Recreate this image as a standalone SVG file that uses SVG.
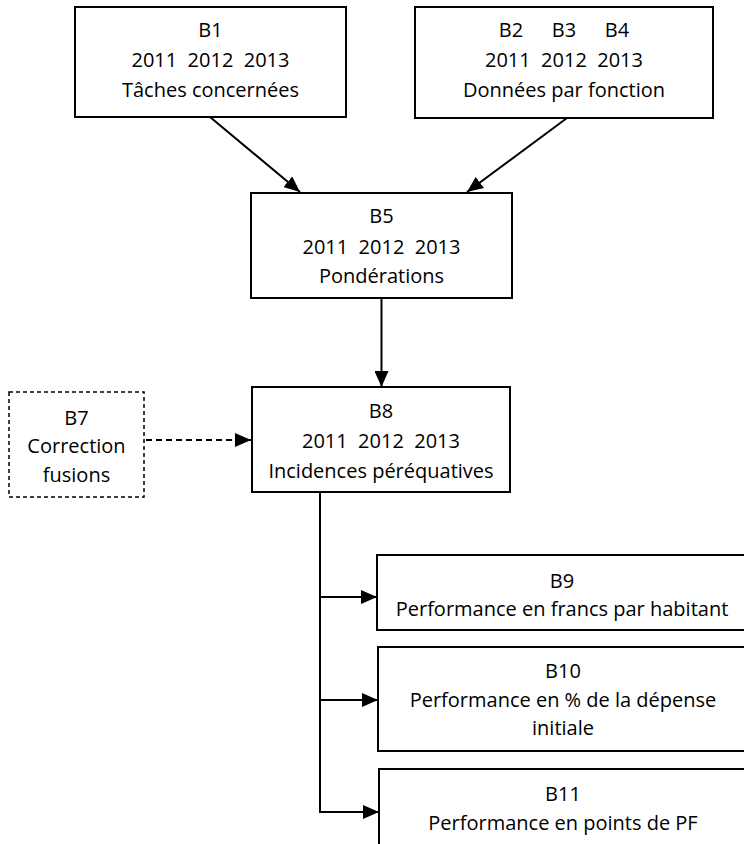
<svg xmlns="http://www.w3.org/2000/svg" width="744" height="844" viewBox="0 0 744 844">
<style>
.box{fill:#fff;stroke:#000;stroke-width:2}
.dbox{fill:#fff;stroke:#000;stroke-width:1.5;stroke-dasharray:4,3}
text{font-family:"Open Sans","DejaVu Sans","Liberation Sans",sans-serif;font-size:20px;fill:#000;text-anchor:middle;white-space:pre}
.ln{fill:none;stroke:#000;stroke-width:2}
.dl{fill:none;stroke:#000;stroke-width:2;stroke-dasharray:6,4}
</style>
<defs>
<marker id="ah" markerUnits="userSpaceOnUse" markerWidth="16" markerHeight="14" refX="16" refY="7" orient="auto">
<path d="M0,0 L16,7 L0,14 Z" fill="#000"/>
</marker>
</defs>
<rect width="744" height="844" fill="#fff"/>
<g id="connectors">
<line class="ln" x1="210" y1="117" x2="300" y2="192" marker-end="url(#ah)"/>
<line class="ln" x1="567" y1="118" x2="467" y2="192" marker-end="url(#ah)"/>
<line class="ln" x1="381.5" y1="298" x2="381.5" y2="387" marker-end="url(#ah)"/>
<line class="dl" x1="146" y1="440" x2="251" y2="440" marker-end="url(#ah)"/>
<polyline class="ln" points="320,492 320,812"/>
<line class="ln" x1="319" y1="597" x2="377" y2="597" marker-end="url(#ah)"/>
<line class="ln" x1="319" y1="700" x2="378" y2="700" marker-end="url(#ah)"/>
<line class="ln" x1="319" y1="812" x2="379" y2="812" marker-end="url(#ah)"/>
</g>
<g id="B1">
<rect class="box" x="75" y="7" width="271" height="110"/>
<text x="210.5" y="37">B1</text>
<text x="210.5" y="67">2011  2012  2013</text>
<text x="210.5" y="97">Tâches concernées</text>
</g>
<g id="B2B3B4">
<rect class="box" x="415" y="7" width="298" height="111"/>
<text y="37"><tspan x="511">B2</tspan><tspan x="564">B3</tspan><tspan x="617">B4</tspan></text>
<text x="564" y="67">2011  2012  2013</text>
<text x="564" y="97">Données par fonction</text>
</g>
<g id="B5">
<rect class="box" x="251" y="193" width="261" height="105"/>
<text x="381.5" y="223">B5</text>
<text x="381.5" y="254">2011  2012  2013</text>
<text x="381.5" y="283">Pondérations</text>
</g>
<g id="B7">
<rect class="dbox" x="9" y="392" width="135" height="105"/>
<text x="76.5" y="425">B7</text>
<text x="76.5" y="453">Correction</text>
<text x="76.5" y="482">fusions</text>
</g>
<g id="B8">
<rect class="box" x="252" y="387" width="258" height="105"/>
<text x="381" y="418">B8</text>
<text x="381" y="448">2011  2012  2013</text>
<text x="381" y="478">Incidences péréquatives</text>
</g>
<g id="B9">
<rect class="box" x="377" y="555" width="400" height="75"/>
<text x="562" y="588">B9</text>
<text x="562" y="616">Performance en francs par habitant</text>
</g>
<g id="B10">
<rect class="box" x="378" y="647" width="400" height="104"/>
<text x="563" y="678">B10</text>
<text x="563" y="707">Performance en % de la dépense</text>
<text x="563" y="735">initiale</text>
</g>
<g id="B11">
<rect class="box" x="379" y="769" width="400" height="100"/>
<text x="563" y="801">B11</text>
<text x="563" y="830">Performance en points de PF</text>
</g>
</svg>
